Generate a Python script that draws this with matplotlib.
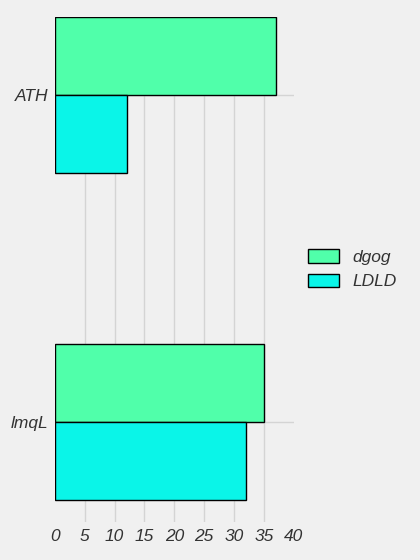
import matplotlib.pyplot as plt
import numpy as np

categories = ['lmqL', 'ATH']
series_names = ['dgog', 'LDLD']
dgog = [35, 37]
ldld = [32, 12]
colors = ['#50ffaa', '#0af5e8']

plt.rcParams['font.family'] = ['Liberation Sans', 'DejaVu Sans']
plt.rcParams['font.style'] = 'italic'

fig = plt.figure(figsize=(4.2, 5.6), dpi=100, facecolor='#f0f0f0')
ax = fig.add_axes([0.131, 0.068, 0.568, 0.902])
ax.set_facecolor('#f0f0f0')

y = np.arange(len(categories))
h = 0.238
ax.barh(y + h / 2, dgog, height=h, color=colors[0], edgecolor='black',
        linewidth=1, label=series_names[0], zorder=3)
ax.barh(y - h / 2, ldld, height=h, color=colors[1], edgecolor='black',
        linewidth=1, label=series_names[1], zorder=3)

ax.set_xlim(0, 40)
ax.set_ylim(-0.305, 1.238)
ax.set_xticks(range(0, 41, 5))
ax.set_yticks(y)
ax.set_yticklabels(categories)

ax.grid(True, color='#d4d4d4', linewidth=1, zorder=0)
ax.get_xgridlines()[-1].set_visible(False)
ax.get_xgridlines()[0].set_visible(False)
for s in ax.spines.values():
    s.set_visible(False)
ax.tick_params(length=0, labelsize=12.5, labelcolor='#333333', pad=5)

ax.legend(loc='center left', bbox_to_anchor=(0.993, 0.5), frameon=False,
          fontsize=12.5, labelcolor='#333333', handlelength=1.8,
          handleheight=0.8, handletextpad=0.8)

fig.savefig('out.png', dpi=100, facecolor=fig.get_facecolor())
